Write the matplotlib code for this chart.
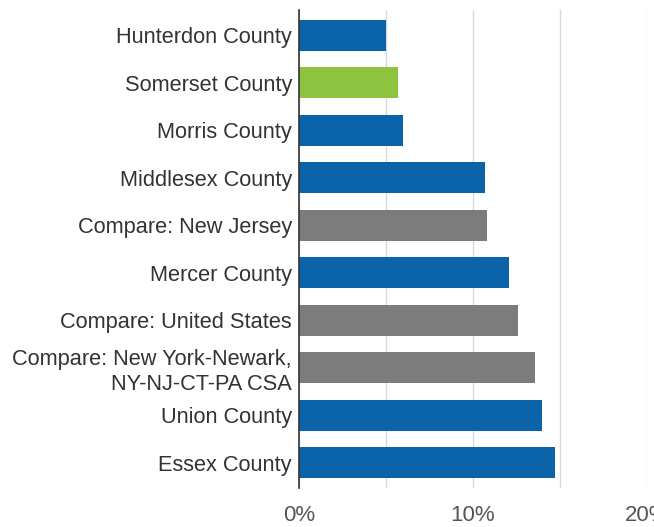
import matplotlib.pyplot as plt

plt.rcParams["font.family"] = ["Liberation Sans", "DejaVu Sans"]

# share of population, percent
places = [
    "Hunterdon County",
    "Somerset County",
    "Morris County",
    "Middlesex County",
    "Compare: New Jersey",
    "Mercer County",
    "Compare: United States",
    "Compare: New York-Newark,\nNY-NJ-CT-PA CSA",
    "Union County",
    "Essex County",
]
values = [5.0, 5.7, 6.0, 10.7, 10.8, 12.1, 12.6, 13.6, 14.0, 14.7]
kinds = ["county", "focus", "county", "county", "compare",
         "county", "compare", "compare", "county", "county"]

palette = {"county": "#0b63a9", "focus": "#8dc43f", "compare": "#7c7c7c"}

fig = plt.figure(figsize=(6.54, 5.27), dpi=100)
ax = fig.add_axes([0.457, 0.074, 0.532, 0.907])

ypos = list(range(len(places)))
ax.barh(ypos, values, height=0.65, color=[palette[k] for k in kinds], zorder=3)

ax.set_xlim(0, 20)
ax.set_ylim(len(places) - 0.47, -0.53)
ax.set_xticks([0, 10, 20])
ax.set_xticklabels(["0%", "10%", "20%"])
ax.set_xticks([5, 15], minor=True)
ax.grid(axis="x", which="both", color="#d9d9d9", linewidth=1, zorder=0)

ax.set_yticks(ypos)
ax.set_yticklabels(places, fontsize=15.7, color="#333333", linespacing=1.22)
ax.tick_params(axis="y", length=0, pad=5)
ax.tick_params(axis="x", which="both", length=0, pad=12, labelsize=16, labelcolor="#555555")

for side in ["top", "right", "bottom"]:
    ax.spines[side].set_visible(False)
ax.spines["left"].set_color("#333333")
ax.spines["left"].set_linewidth(1.2)
ax.spines["left"].set_zorder(4)

fig.savefig("out.png", dpi=100)
